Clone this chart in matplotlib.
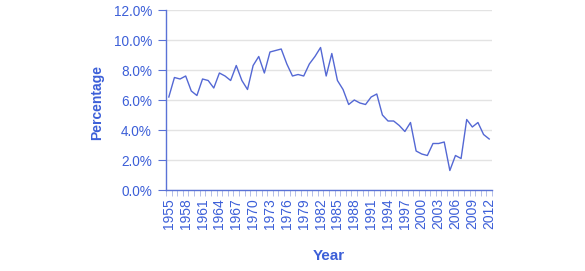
import matplotlib
matplotlib.use("Agg")
import matplotlib.pyplot as plt
from matplotlib.ticker import FuncFormatter, FixedLocator

years = list(range(1955, 2013))
savings_rate = [6.2, 7.5, 7.4, 7.6, 6.6, 6.3, 7.4, 7.3, 6.8, 7.8, 7.6, 7.3, 8.3, 7.3, 6.7,
                8.3, 8.9, 7.8, 9.2, 9.3, 9.4, 8.4, 7.6, 7.7, 7.6, 8.4, 8.9, 9.5, 7.6, 9.1,
                7.3, 6.7, 5.7, 6.0, 5.8, 5.7, 6.2, 6.4, 5.0, 4.6, 4.6, 4.3, 3.9, 4.5, 2.6,
                2.4, 2.3, 3.1, 3.1, 3.2, 1.3, 2.3, 2.1, 4.7, 4.2, 4.5, 3.7, 3.4]
label_years = list(range(1955, 2013, 3))

blue_text = "#3c5fd8"
blue_line = "#5468d4"
blue_axis = "#5a72d6"

plt.rcParams['font.family'] = ['Liberation Sans', 'DejaVu Sans']

fig = plt.figure(figsize=(5.85, 2.71), dpi=100)
ax = fig.add_axes([166/585, 1 - 190/271, 326/585, 180/271])

ax.plot(years, savings_rate, color=blue_line, linewidth=1.0)

ax.set_xlim(1954.5, 2012.5)
ax.set_ylim(0, 12)
ax.set_yticks([0, 2, 4, 6, 8, 10, 12])
ax.yaxis.set_major_formatter(FuncFormatter(lambda v, p: f"{v:.1f}%"))
ax.set_xticks(label_years)
ax.set_xticklabels([str(y) for y in label_years], rotation=90)
ax.xaxis.set_minor_locator(FixedLocator([y + 0.5 for y in range(1954, 2013)]))

ax.grid(axis='y', color='#e3e3e3', linewidth=1.0)
ax.set_axisbelow(True)

for s in ['top', 'right']:
    ax.spines[s].set_visible(False)
for s in ['left', 'bottom']:
    ax.spines[s].set_color(blue_axis)
    ax.spines[s].set_linewidth(1.0)

ax.tick_params(axis='y', colors=blue_axis, labelcolor=blue_text, labelsize=9.8,
               length=6, width=0.8, pad=4)
ax.tick_params(axis='x', which='major', length=0, labelcolor=blue_text,
               labelsize=10, pad=6)
ax.tick_params(axis='x', which='minor', colors='#b3bee9', length=4, width=0.7)

fig.text(97/585, 1 - 102/271, "Percentage", rotation=90, ha='center', va='center',
         color=blue_text, fontsize=10, fontweight='bold')
fig.text(329/585, 1 - 256/271, "Year", ha='center', va='center',
         color=blue_text, fontsize=11, fontweight='bold')

fig.savefig("out.png", dpi=100)
